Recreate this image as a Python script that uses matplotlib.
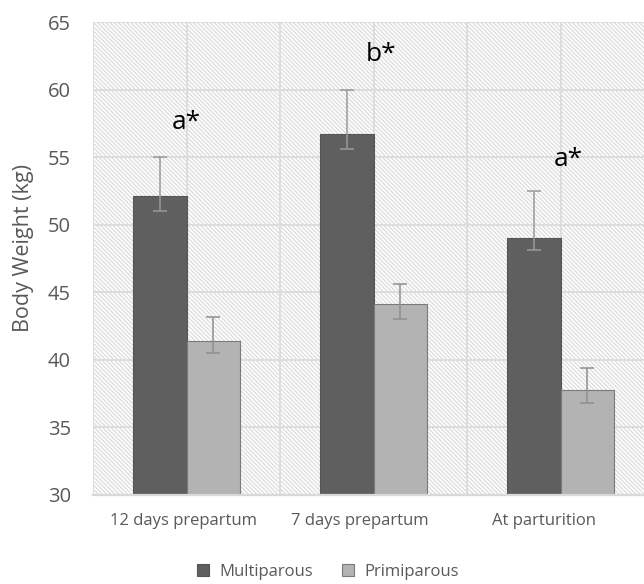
import matplotlib
matplotlib.use("Agg")
import matplotlib.pyplot as plt
import matplotlib.transforms as mtransforms
import numpy as np

categories = ["12 days prepartum", "7 days prepartum", "At parturition"]
multiparous = [52.1, 56.7, 49.0]
multi_err_low = [1.1, 1.1, 0.9]
multi_err_high = [2.9, 3.3, 3.5]
primiparous = [41.4, 44.1, 37.75]
primi_err_low = [0.9, 1.1, 0.95]
primi_err_high = [1.8, 1.5, 1.65]
letters = ["a*", "b*", "a*"]
letter_y = [57.6, 62.6, 54.8]
letter_dx = [0.0, 0.04, 0.04]
yticks = [30, 35, 40, 45, 50, 55, 60, 65]

plt.rcParams['font.family'] = ['Open Sans', 'DejaVu Sans']
plt.rcParams['hatch.linewidth'] = 0.9
plt.rcParams['hatch.color'] = '#dcdcdc'

fig = plt.figure(figsize=(6.44, 5.84), dpi=100)
ax = fig.add_axes([93/644, 1-495/584, 1-93/644, (495-22)/584])

ax.patch.set_facecolor('white')
ax.patch.set_hatch('\\\\\\\\\\\\\\\\')
ax.patch.set_edgecolor('#dcdcdc')

x = np.arange(len(categories))
w = 0.285
gray_text = '#595959'

ax.bar(x - w/2, multiparous, w, color='#5f5f5f', edgecolor='#555555',
       linewidth=0.8, zorder=3, label='Multiparous')
ax.bar(x + w/2, primiparous, w, color='#b3b3b3', edgecolor='#7a7a7a',
       linewidth=0.8, zorder=3, label='Primiparous')
ax.errorbar(x - w/2, multiparous, yerr=[multi_err_low, multi_err_high], fmt='none',
            ecolor='#9a9a9a', elinewidth=1.1, capsize=5, capthick=1.1, zorder=4)
ax.errorbar(x + w/2, primiparous, yerr=[primi_err_low, primi_err_high], fmt='none',
            ecolor='#8f8f8f', elinewidth=1.1, capsize=5, capthick=1.1, zorder=4)

for i, (t, yy) in enumerate(zip(letters, letter_y)):
    ax.text(x[i] + letter_dx[i], yy, t, ha='center', va='center', fontsize=19,
            color='black', zorder=5)

ax.set_ylim(30, 65)
ax.set_xlim(-0.5, -0.5 + (644-93)/187)
ax.set_yticks(yticks)
ax.set_xticks(x)
ax.set_xticks(x - 0.5, minor=True)
ax.set_xticklabels(categories)
ax.grid(True, which='both', color='#dddddd', linewidth=1.4, zorder=1)
ax.set_axisbelow(True)
ax.tick_params(axis='both', which='both', length=0)
ax.tick_params(axis='y', pad=16, labelsize=14.5, labelcolor=gray_text)
ax.tick_params(axis='x', pad=13, labelsize=12, labelcolor=gray_text)

offsets = [-3, -14, -16]
for lab, dx in zip(ax.get_xticklabels(), offsets):
    lab.set_transform(lab.get_transform() +
                      mtransforms.ScaledTranslation(dx/100, 0, fig.dpi_scale_trans))

for s in ['top', 'right', 'left']:
    ax.spines[s].set_visible(False)
ax.spines['bottom'].set_color('#d9d9d9')
ax.spines['bottom'].set_linewidth(1.6)
ax.spines['bottom'].set_zorder(5)

ax.set_ylabel('Body Weight (kg)', fontsize=15.5, color=gray_text)
ax.yaxis.set_label_coords(-0.107, 0.523)

leg = fig.legend(loc='center', bbox_to_anchor=(0.509, 1-572/584), ncol=2,
                 frameon=False, fontsize=12, handlelength=0.75, handleheight=0.75,
                 columnspacing=1.75, handletextpad=0.6)
for t in leg.get_texts():
    t.set_color(gray_text)

fig.savefig('out.png', dpi=100)
